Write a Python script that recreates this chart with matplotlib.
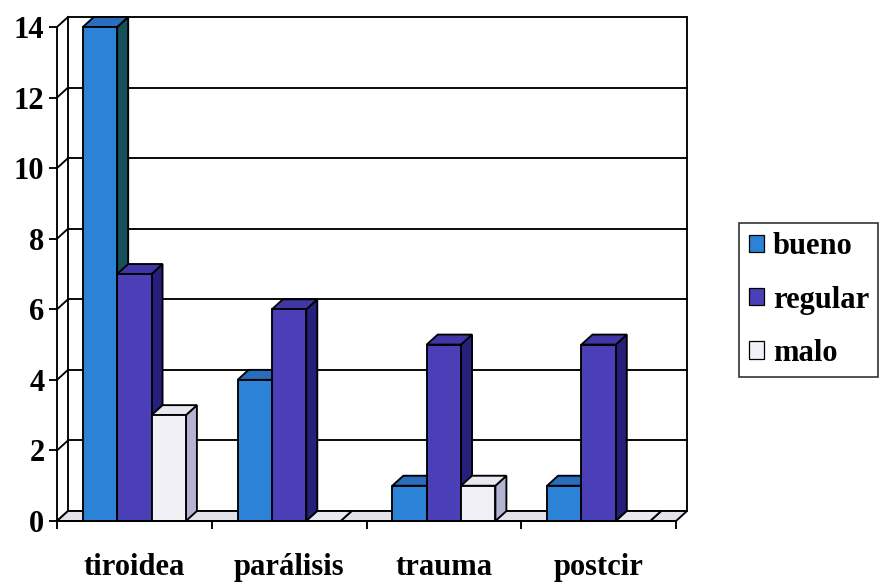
import matplotlib
matplotlib.use("Agg")
import matplotlib.pyplot as plt
from matplotlib.patches import Polygon, Patch

plt.rcParams['font.family'] = ['Liberation Serif', 'DejaVu Serif']
plt.rcParams['font.weight'] = 'bold'

# Data
categories = ['tiroidea', 'parálisis', 'trauma', 'postcir']
series_names = ['bueno', 'regular', 'malo']
bueno = [14, 4, 1, 1]
regular = [7, 6, 5, 5]
malo = [3, 0, 1, 0]
y_ticks = [0, 2, 4, 6, 8, 10, 12, 14]

series_values = [bueno, regular, malo]
# front, side, top face colours per series
face_colors = [
    ('#2c82d6', '#17505a', '#2a6dbd'),
    ('#4a3fb6', '#24207c', '#3f37a6'),
    ('#f0f0f6', '#b4b4d2', '#e8e8f0'),
]

# depth offset of the pseudo-3D box, in data units
DDX = 0.071
DDY = 0.283
BAR_W = 0.222
YMAX = 14

fig = plt.figure(figsize=(8.86, 5.83), dpi=100)
ax = fig.add_axes([57 / 886, 62 / 583, 630 / 886, 504 / 583])
ax.set_xlim(0, len(categories) + DDX)
ax.set_ylim(0, YMAX + DDY)

lw = 1.35
ncat = len(categories)

# back wall with gridlines
ax.add_patch(Polygon([(DDX, DDY), (ncat + DDX, DDY), (ncat + DDX, YMAX + DDY), (DDX, YMAX + DDY)],
                     closed=True, facecolor='white', edgecolor='black', lw=lw, zorder=0.5, clip_on=False))
for v in y_ticks[1:-1]:
    ax.plot([DDX, ncat + DDX], [v + DDY, v + DDY], color='black', lw=lw, zorder=0.6, clip_on=False)
# side wall edges
for v in y_ticks:
    ax.plot([0, DDX], [v, v + DDY], color='black', lw=lw, zorder=0.6, clip_on=False)

# floor
ax.add_patch(Polygon([(0, 0), (ncat, 0), (ncat + DDX, DDY), (DDX, DDY)], closed=True,
                     facecolor='#e2e2ea', edgecolor='black', lw=lw, zorder=0.7, clip_on=False))

# bars, drawn left to right so each bar hides the side of its neighbour
k = 0
for ci in range(ncat):
    for si, vals in enumerate(series_values):
        h = vals[ci]
        x0 = ci + 0.5 + (si - 1.5) * BAR_W
        fc, sc, tc = face_colors[si]
        z = 2 + k * 0.1
        ax.bar([x0], [h], width=BAR_W, align='edge', color=fc, edgecolor='black',
               lw=lw, zorder=z + 0.03)
        x1 = x0 + BAR_W
        ax.add_patch(Polygon([(x1, 0), (x1 + DDX, DDY), (x1 + DDX, h + DDY), (x1, h)], closed=True,
                             facecolor=sc, edgecolor='black', lw=lw, zorder=z + 0.01, clip_on=False))
        ax.add_patch(Polygon([(x0, h), (x1, h), (x1 + DDX, h + DDY), (x0 + DDX, h + DDY)], closed=True,
                             facecolor=tc, edgecolor='black', lw=lw, zorder=z + 0.02, clip_on=False))
        k += 1

# axes
for s in ['top', 'right']:
    ax.spines[s].set_visible(False)
ax.spines['left'].set_bounds(0, YMAX)
ax.spines['bottom'].set_bounds(0, ncat)
for s in ['left', 'bottom']:
    ax.spines[s].set_linewidth(lw)
    ax.spines[s].set_zorder(10)

ax.set_yticks(y_ticks)
ax.set_yticklabels([str(v) for v in y_ticks], fontsize=22, fontweight='bold')
ax.tick_params(axis='y', direction='out', length=6, width=lw, pad=3)

ax.set_xticks(range(ncat + 1))
ax.set_xticklabels([])
ax.tick_params(axis='x', which='major', direction='out', length=6, width=lw)
ax.set_xticks([c + 0.5 for c in range(ncat)], minor=True)
ax.set_xticklabels(categories, minor=True, fontsize=22, fontweight='bold')
ax.tick_params(axis='x', which='minor', length=0, pad=23)

handles = [Patch(facecolor=face_colors[i][0], edgecolor='black', lw=0.9) for i in range(3)]
leg = fig.legend(handles, series_names, loc='center', bbox_to_anchor=(0.913, 0.4854),
                 prop={'family': 'Liberation Serif', 'weight': 'bold', 'size': 22},
                 handlelength=0.5, handleheight=0.5, handletextpad=0.3, labelspacing=0.8,
                 borderpad=0.3, borderaxespad=0, frameon=True, fancybox=False, edgecolor='black')
leg.get_frame().set_linewidth(1.2)

fig.savefig('out.png', dpi=100)
